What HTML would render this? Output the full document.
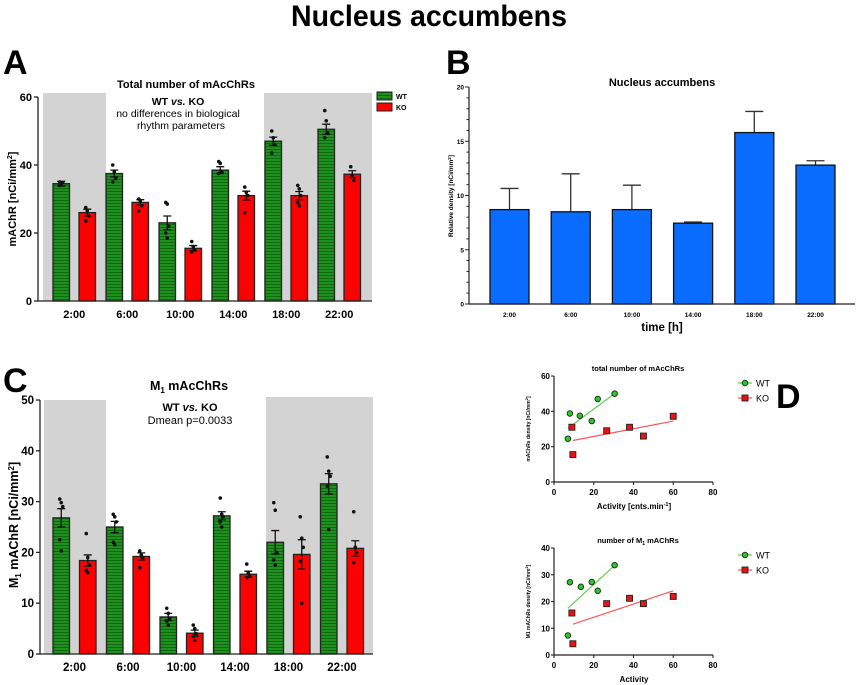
<!DOCTYPE html>
<html><head><meta charset="utf-8"><style>
html,body{margin:0;padding:0;background:#fff;}
svg{display:block;font-family:"Liberation Sans",Arial,sans-serif;}
</style></head><body>
<svg id="fig" width="858" height="685" viewBox="0 0 858 685" xmlns="http://www.w3.org/2000/svg">
<defs>
<pattern id="hatch" width="4" height="3" patternUnits="userSpaceOnUse">
<rect width="4" height="3" fill="#1f8f1f"/><rect y="2" width="4" height="1" fill="#0d6b0d"/>
</pattern>
</defs>
<text x="429" y="26" text-anchor="middle" font-size="30" font-weight="bold" textLength="276" lengthAdjust="spacingAndGlyphs">Nucleus accumbens</text>
<text x="3" y="74" font-size="34" font-weight="bold">A</text>
<text x="446" y="74" font-size="34" font-weight="bold">B</text>
<text x="3" y="392" font-size="34" font-weight="bold">C</text>
<text x="776" y="408" font-size="34" font-weight="bold">D</text>
<g id="gA"></g>
<g id="gB"></g>
<g id="gC"></g>
<g id="gD"></g>
</svg>
<script>
const times = ["2:00","6:00","10:00","14:00","18:00","22:00"];
// Panel A
const aWT = [34.5, 37.5, 23, 38.5, 47, 50.5];
const aKO = [26, 29, 15.5, 31, 31, 37.3];
const aWTerr = [0.7, 1, 2, 1, 1.2, 1.5];
const aKOerr = [1, 0.8, 0.8, 1.3, 1.2, 1];
const aWTdots = [[35,34.5,34.8,34],[40,38,36,35],[29,28.5,22,20,18.5],[41,40.5,38,37.5],[50,48,46,43.5],[56,53,49.5,48]];
const aKOdots = [[27.5,26.5,25,23.5],[30,29.5,28,26.5],[17.5,16,15,14.5],[33.5,32,31,26],[34,33,31,29,28],[39.5,37,35.5]];
// Panel B
const bVals = [8.7, 8.5, 8.7, 7.45, 15.8, 12.8];
const bErr = [1.95, 3.5, 2.25, 0.1, 1.95, 0.4];
// Panel C
const cWT = [26.8, 25, 7.3, 27.2, 22, 33.5];
const cKO = [18.4, 19.2, 4.1, 15.7, 19.6, 20.8];
const cWTerr = [1.8, 1.1, 0.7, 0.8, 2.3, 2];
const cKOerr = [1.1, 0.7, 0.6, 0.6, 2.9, 1.5];
const cWTdots = [[30.5,29.8,29,22.5,20.3],[27.5,27,26,22,21.5],[9,8,7,6.5,5.7],[30.7,27.5,27,26,25],[29.8,28.3,20,18.5,17.5],[38.8,36,35,33,24.5]];
const cKOdots = [[23.7,19,17.5,16.5,16],[20.3,19.5,19,17],[5.7,5,4,3.5,2.7],[17.7,16,15.5,15],[27,22.8,21,18.3,10],[28,21,20,18]];
// Panel D
const dActWT = [7, 8, 13, 19, 22, 30.5];
const dTotWT = [24.5, 38.8, 37.5, 34.5, 47, 50];
const dActKO = [9, 9.5, 26.5, 38, 45, 60];
const dTotKO = [31, 15.5, 29, 31, 26, 37.2];
const dM1ActWT = [7, 8, 13.5, 19, 22, 30.5];
const dM1WT = [7.3, 27.2, 25.5, 27.3, 24, 33.6];
const dM1ActKO = [9, 9.5, 26.5, 38, 45, 60];
const dM1KO = [15.7, 4.2, 19.2, 21.2, 19.2, 21.9];
const fitTotWT = [[7, 30.5],[30.5, 50]];
const fitTotKO = [[9.5, 23.5],[60, 34.5]];
const fitM1WT = [[7, 17.5],[30.5, 33.5]];
const fitM1KO = [[9.5, 11.5],[60, 24]];

const NS="http://www.w3.org/2000/svg";
function mk(parent, tag, attrs, text){
  const e=document.createElementNS(NS,tag);
  for(const k in attrs) e.setAttribute(k, attrs[k]);
  if(text!==undefined) e.textContent=text;
  parent.appendChild(e); return e;
}

function groupedPanel(g, o){
  const y = v => o.y0 - v*(o.y0-o.yTop)/o.ymax;
  const gx = i => o.x0 + o.firstOff + i*o.step;
  o.shades.forEach(s=>{
    const r=mk(g,'rect',{x:s[0],y:s[2],width:s[1]-s[0],height:o.y0-s[2],fill:'#d3d3d3'});
    
    
  });
  const series=[[o.wt,o.wterr,o.wtdots,'url(#hatch)',0,'wt'],[o.ko,o.koerr,o.kodots,'#ff0000',o.koOff,'ko']];
  series.forEach(s=>{
    s[0].forEach((v,i)=>{
      const bx=gx(i)+s[4];
      const r=mk(g,'rect',{x:bx,y:y(v),width:o.bw,height:o.y0-y(v),fill:s[3],stroke:'#222','stroke-width':1.3});
      
      
      const cx=bx+o.bw/2, e=s[1][i];
      mk(g,'path',{d:`M${cx} ${y(v-e)}V${y(v+e)}M${cx-4} ${y(v+e)}H${cx+4}M${cx-4} ${y(v-e)}H${cx+4}`,stroke:'#111','stroke-width':1.3,fill:'none'});
      s[2][i].forEach((d,j)=>{
        const c=mk(g,'circle',{cx:cx+((j%3)-1)*1.5,cy:y(d),r:1.8,fill:'#111'});
        
        
      });
    });
  });
  mk(g,'path',{d:`M${o.x0} ${o.yTop}V${o.y0}H${o.x1}`,stroke:'#222','stroke-width':1.3,fill:'none'});
  for(let t=0;t<=o.ymax;t+=o.tick){
    mk(g,'line',{x1:o.x0-4,x2:o.x0,y1:y(t),y2:y(t),stroke:'#222','stroke-width':1.3});
    const tl=mk(g,'text',{x:o.x0-6,y:y(t)+4,'text-anchor':'end','font-size':o.tfs,'font-weight':'bold'},String(t));
    
    
  }
  times.forEach((t,i)=>{
    const lx=gx(i)+o.koOff/2+o.bw/2;
    const tl=mk(g,'text',{x:lx,y:o.y0+17,'text-anchor':'middle','font-size':o.tfs,'font-weight':'bold'},t);
    
    
  });
}

// Panel A
const gA=document.getElementById('gA');
groupedPanel(gA,{x0:38,x1:372,y0:301,yTop:97,ymax:60,tick:20,step:53,firstOff:15,bw:16.5,koOff:26,
  wt:aWT,ko:aKO,wterr:aWTerr,koerr:aKOerr,wtdots:aWTdots,kodots:aKOdots,tfs:11,
  shades:[[43,106,93],[264,372,93]]});
mk(gA,'text',{x:186,y:88,'text-anchor':'middle','font-size':11,'font-weight':'bold'},'Total number of mAcChRs');
const annA=mk(gA,'text',{x:178,y:105,'text-anchor':'middle','font-size':10.5,'font-weight':'bold'});
annA.innerHTML='WT <tspan font-style="italic">vs.</tspan> KO';

mk(gA,'text',{x:178,y:117,'text-anchor':'middle','font-size':10.5},'no differences in biological');
mk(gA,'text',{x:181,y:129,'text-anchor':'middle','font-size':10.5},'rhythm parameters');
const ayl=mk(gA,'text',{x:0,y:0,transform:'translate(16,199) rotate(-90)','text-anchor':'middle','font-size':11,'font-weight':'bold'});
ayl.innerHTML='mAChR [nCi/mm<tspan dy="-4" font-size="7">2</tspan><tspan dy="4">]</tspan>';

[['url(#hatch)','WT',92],['#ff0000','KO',103]].forEach(l=>{
  const r=mk(gA,'rect',{x:377,y:l[2],width:15,height:8,fill:l[0],stroke:'#222','stroke-width':1});
  
  
  mk(gA,'text',{x:396,y:l[2]+7,'font-size':7,'font-weight':'bold'},l[1]);
});

// Panel C
const gC=document.getElementById('gC');
groupedPanel(gC,{x0:40,x1:373,y0:654,yTop:400,ymax:50,tick:10,step:53.5,firstOff:13,bw:16.5,koOff:26.5,
  wt:cWT,ko:cKO,wterr:cWTerr,koerr:cKOerr,wtdots:cWTdots,kodots:cKOdots,tfs:11.5,
  shades:[[44,106,400],[266,373,397]]});
const ct=mk(gC,'text',{x:189,y:390,'text-anchor':'middle','font-size':12.5,'font-weight':'bold'});
ct.innerHTML='M<tspan dy="3" font-size="8">1</tspan><tspan dy="-3"> mAcChRs</tspan>';

const annC=mk(gC,'text',{x:190,y:411,'text-anchor':'middle','font-size':11,'font-weight':'bold'});
annC.innerHTML='WT <tspan font-style="italic">vs.</tspan> KO';

mk(gC,'text',{x:190,y:424,'text-anchor':'middle','font-size':11},'Dmean p=0.0033');
const cyl=mk(gC,'text',{x:0,y:0,transform:'translate(18,525) rotate(-90)','text-anchor':'middle','font-size':12.5,'font-weight':'bold'});
cyl.innerHTML='M<tspan dy="3" font-size="8">1</tspan><tspan dy="-3"> mAChR [nCi/mm</tspan><tspan dy="-4" font-size="8">2</tspan><tspan dy="4">]</tspan>';


// Panel B
const gB=document.getElementById('gB');
(function(){
  const x0=469,x1=855,y0=304,yTop=87,ymax=20,step=61.2,bw=39,first=21;
  const y=v=>y0-v*(y0-yTop)/ymax;
  bVals.forEach((v,i)=>{
    const bx=x0+first+i*step, cx=bx+bw/2, top=v+bErr[i];
    mk(gB,'path',{d:`M${cx} ${y(v)}V${y(top)}M${cx-9} ${y(top)}H${cx+9}`,stroke:'#333','stroke-width':1.3,fill:'none'});
    const r=mk(gB,'rect',{x:bx,y:y(v),width:bw,height:y0-y(v),fill:'#0a6cff',stroke:'#111','stroke-width':1.3});
    
    
    const tl=mk(gB,'text',{x:cx,y:y0+13,'text-anchor':'middle','font-size':6.5,'font-weight':'bold'},times[i]);
    
    
  });
  mk(gB,'path',{d:`M${x0} ${yTop}V${y0}H${x1}`,stroke:'#222','stroke-width':1.2,fill:'none'});
  for(let t=0;t<=ymax;t+=1){
    const major=t%5===0;
    mk(gB,'line',{x1:x0-(major?4:2.5),x2:x0,y1:y(t),y2:y(t),stroke:'#222','stroke-width':1});
    if(major){
      const tl=mk(gB,'text',{x:x0-5,y:y(t)+2.5,'text-anchor':'end','font-size':6.5,'font-weight':'bold'},String(t));
      
      
    }
  }
  mk(gB,'text',{x:662,y:86,'text-anchor':'middle','font-size':11,'font-weight':'bold'},'Nucleus accumbens');
  mk(gB,'text',{x:662,y:331,'text-anchor':'middle','font-size':11.5,'font-weight':'bold'},'time [h]');
  const yl=mk(gB,'text',{x:0,y:0,transform:'translate(453,196) rotate(-90)','text-anchor':'middle','font-size':6.5,'font-weight':'bold'});
  yl.innerHTML='Relative density [nCi/mm<tspan dy="-2" font-size="4.5">2</tspan><tspan dy="2">]</tspan>';
  
})();

// Panel D
const gD=document.getElementById('gD');
function scatter(o){
  const x=v=>o.x0+v*(o.x1-o.x0)/80;
  const y=v=>o.y0-v*(o.y0-o.yTop)/o.ymax;
  mk(gD,'line',{x1:x(o.fwt[0][0]),y1:y(o.fwt[0][1]),x2:x(o.fwt[1][0]),y2:y(o.fwt[1][1]),stroke:'#66cc55','stroke-width':1.2});
  mk(gD,'line',{x1:x(o.fko[0][0]),y1:y(o.fko[0][1]),x2:x(o.fko[1][0]),y2:y(o.fko[1][1]),stroke:'#ff5555','stroke-width':1.2});
  o.wx.forEach((a,i)=>{
    const c=mk(gD,'circle',{cx:x(a),cy:y(o.wy[i]),r:2.8,fill:'#22cc22',stroke:'#222','stroke-width':0.9});
    
    
  });
  o.kx.forEach((a,i)=>{
    const c=mk(gD,'rect',{x:x(a)-3,y:y(o.ky[i])-3,width:6,height:6,fill:'#ee1111',stroke:'#222','stroke-width':0.9});
    
    
  });
  mk(gD,'path',{d:`M${o.x0} ${o.yTop}V${o.y0}H${o.x1}`,stroke:'#222','stroke-width':1.2,fill:'none'});
  for(let t=0;t<=80;t+=20){
    mk(gD,'line',{x1:x(t),x2:x(t),y1:o.y0,y2:o.y0+3,stroke:'#222','stroke-width':1.1});
    const tl=mk(gD,'text',{x:x(t),y:o.y0+13,'text-anchor':'middle','font-size':8,'font-weight':'bold'},String(t));
    
    
  }
  for(let t=0;t<=o.ymax;t+=o.tick){
    mk(gD,'line',{x1:o.x0-3,x2:o.x0,y1:y(t),y2:y(t),stroke:'#222','stroke-width':1.1});
    const tl=mk(gD,'text',{x:o.x0-4,y:y(t)+3,'text-anchor':'end','font-size':8,'font-weight':'bold'},String(t));
    
    
  }
  const tt=mk(gD,'text',{x:638,y:o.yTop-5,'text-anchor':'middle','font-size':7.5,'font-weight':'bold'});
  tt.innerHTML=o.title; 
  const xt=mk(gD,'text',{x:634,y:o.y0+27,'text-anchor':'middle','font-size':8,'font-weight':'bold'});
  xt.innerHTML=o.xtitle; 
  const yl=mk(gD,'text',{x:0,y:0,transform:`translate(530,${(o.y0+o.yTop)/2}) rotate(-90)`,'text-anchor':'middle','font-size':5,'font-weight':'bold'});
  yl.innerHTML=o.ytitle; 
  const ly=o.legY;
  mk(gD,'line',{x1:738,x2:752,y1:ly,y2:ly,stroke:'#66cc55','stroke-width':1.2});
  mk(gD,'circle',{cx:745,cy:ly,r:2.8,fill:'#22cc22',stroke:'#222','stroke-width':0.9});
  mk(gD,'text',{x:756,y:ly+3.5,'font-size':9},'WT');
  mk(gD,'line',{x1:738,x2:752,y1:ly+15,y2:ly+15,stroke:'#ff5555','stroke-width':1.2});
  mk(gD,'rect',{x:742,y:ly+12,width:6,height:6,fill:'#ee1111',stroke:'#222','stroke-width':0.9});
  mk(gD,'text',{x:756,y:ly+18.5,'font-size':9},'KO');
}
scatter({x0:554,x1:713,y0:482,yTop:376,ymax:60,tick:20,wx:dActWT,wy:dTotWT,kx:dActKO,ky:dTotKO,fwt:fitTotWT,fko:fitTotKO,
  title:'total number of mAcChRs',xtitle:'Activity [cnts.min<tspan dy="-3" font-size="5.5">-1</tspan><tspan dy="3">]</tspan>',
  ytitle:'mAChRs density [nCi/mm<tspan dy="-2" font-size="4">2</tspan><tspan dy="2">]</tspan>',legY:383});
scatter({x0:554,x1:713,y0:655,yTop:548,ymax:40,tick:10,wx:dM1ActWT,wy:dM1WT,kx:dM1ActKO,ky:dM1KO,fwt:fitM1WT,fko:fitM1KO,
  title:'number of M<tspan dy="2" font-size="5">1</tspan><tspan dy="-2"> mAChRs</tspan>',xtitle:'Activity',
  ytitle:'M1 mAChRs density [nCi/mm<tspan dy="-2" font-size="4">2</tspan><tspan dy="2">]</tspan>',legY:555});
</script>
</body></html>
